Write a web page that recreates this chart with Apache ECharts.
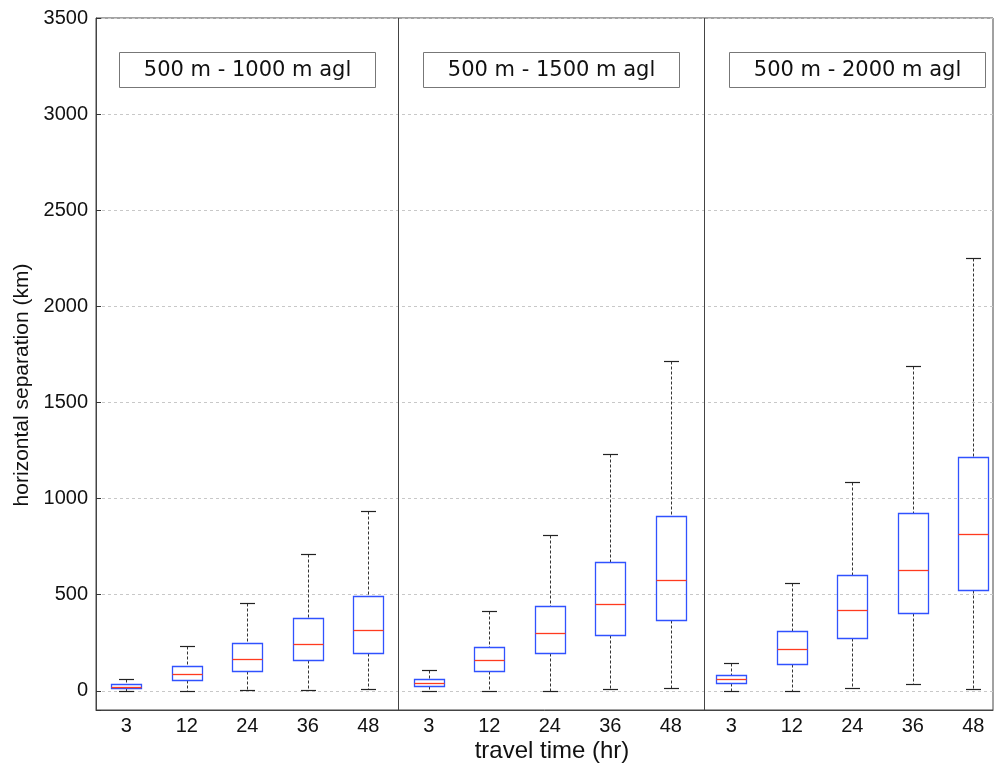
<!DOCTYPE html>
<html><head><meta charset="utf-8">
<script src="https://cdn.jsdelivr.net/npm/echarts@6/dist/echarts.min.js"></script>
<style>html,body{margin:0;padding:0;background:#fff}#c{width:996px;height:765px}</style>
</head><body><div id="c"></div>
<script>
const travelTimes = ['3', '12', '24', '36', '48'];
const panelTitles = ['500 m - 1000 m agl', '500 m - 1500 m agl', '500 m - 2000 m agl'];
const yAxisTitle = 'horizontal separation (km)';
const xAxisTitle = 'travel time (hr)';
// each box: [lower whisker, Q1, median, Q3, upper whisker] (km), one per travel time
const panel1000 = [[0, 14, 19, 33, 60], [0, 57, 89, 130, 234], [2, 104, 165, 246, 458], [2, 158, 243, 380, 713], [7, 199, 316, 495, 934]];
const panel1500 = [[0, 24, 42, 61, 108], [0, 103, 160, 228, 417], [0, 196, 298, 441, 809], [8, 292, 451, 668, 1234], [12, 368, 574, 909, 1715]];
const panel2000 = [[0, 38, 59, 83, 143], [0, 141, 217, 311, 562], [14, 276, 422, 601, 1085], [33, 407, 626, 925, 1687], [8, 523, 814, 1218, 2253]];

const panels = [panel1000, panel1500, panel2000];
const boxData = [];
panels.forEach((p, pi) => p.forEach((s, i) => boxData.push([pi * 5 + i + 1].concat(s))));

const px = v => Math.round(v) + 0.5;

function renderBox(params, api) {
  const x = api.value(0);
  const lo = api.coord([x, api.value(1)]);
  const q1 = api.coord([x, api.value(2)]);
  const md = api.coord([x, api.value(3)]);
  const q3 = api.coord([x, api.value(4)]);
  const hi = api.coord([x, api.value(5)]);
  const cx = px(lo[0]);
  const bw = 15, cw = 7.5;
  const dash = { stroke: '#333', lineWidth: 1, lineDash: [3, 2], fill: null };
  const cap = { stroke: '#222', lineWidth: 1.2, fill: null };
  return {
    type: 'group',
    children: [
      { type: 'line', shape: { x1: cx, y1: px(hi[1]), x2: cx, y2: px(q3[1]) }, style: dash },
      { type: 'line', shape: { x1: cx, y1: px(q1[1]), x2: cx, y2: px(lo[1]) }, style: dash },
      { type: 'line', shape: { x1: cx - cw, y1: px(hi[1]), x2: cx + cw, y2: px(hi[1]) }, style: cap },
      { type: 'line', shape: { x1: cx - cw, y1: px(lo[1]), x2: cx + cw, y2: px(lo[1]) }, style: cap },
      { type: 'rect', shape: { x: cx - bw, y: px(q3[1]), width: 2 * bw, height: px(q1[1]) - px(q3[1]) },
        style: { fill: 'none', stroke: '#3052ff', lineWidth: 1.3 } },
      { type: 'line', shape: { x1: cx - bw, y1: px(md[1]), x2: cx + bw, y2: px(md[1]) },
        style: { stroke: '#ff3a1f', lineWidth: 1.3, fill: null } }
    ]
  };
}

const titleCenters = [247, 551, 857];
const graphics = panelTitles.map((t, i) => ({
  type: 'group',
  left: titleCenters[i] - 128, top: 52,
  children: [
    { type: 'rect', shape: { x: 0, y: 0, width: 256, height: 35 }, style: { fill: '#fff', stroke: '#777', lineWidth: 1 } },
    { type: 'text', x: 128, y: 18, style: { text: t, font: '21px "DejaVu Sans"', fill: '#111', align: 'center', verticalAlign: 'middle' } }
  ]
}));
graphics.push({ type: 'text', x: 22, y: 385, rotation: Math.PI / 2,
  style: { text: yAxisTitle, font: '21px "Liberation Sans"', fill: '#111', align: 'center', verticalAlign: 'middle' } });
graphics.push({ type: 'text', x: 552, y: 751,
  style: { text: xAxisTitle, font: '24px "Liberation Sans"', fill: '#111', align: 'center', verticalAlign: 'middle' } });

const chart = echarts.init(document.getElementById('c'), null, { renderer: 'canvas' });
chart.setOption({
  animation: false,
  backgroundColor: '#fff',
  grid: { left: 96, right: 1, top: 18, bottom: 55, show: true, borderColor: '#444', borderWidth: 1, backgroundColor: 'transparent' },
  xAxis: {
    type: 'value', min: 0.5, max: 15.325, interval: 0.5,
    axisLine: { show: true, onZero: false, lineStyle: { color: '#444', width: 1 } },
    axisTick: { show: false },
    splitLine: { show: false },
    axisLabel: {
      margin: 6, color: '#111', fontSize: 20, fontFamily: 'Liberation Sans',
      showMinLabel: true, showMaxLabel: true,
      formatter: v => (Number.isInteger(v) && v >= 1 && v <= 15) ? travelTimes[(v - 1) % 5] : ''
    }
  },
  yAxis: {
    type: 'value', min: -100, max: 3500, splitNumber: 7,
    axisLine: { show: true, onZero: false, lineStyle: { color: '#444', width: 1 } },
    axisTick: { show: true, inside: true, length: 5, lineStyle: { color: '#333' } },
    splitLine: { show: true, lineStyle: { color: '#c8c8c8', type: [3, 3], width: 1 } },
    axisLabel: {
      margin: 8, color: '#111', fontSize: 20, fontFamily: 'Liberation Sans',
      formatter: v => (v % 500 === 0 ? String(v) : '')
    }
  },
  series: [{
    type: 'custom',
    renderItem: renderBox,
    data: boxData,
    encode: { x: 0, y: [1, 2, 3, 4, 5] },
    clip: true,
    markLine: {
      silent: true, symbol: 'none', label: { show: false },
      lineStyle: { color: '#444', type: 'solid', width: 1 },
      data: [{ xAxis: 5.5 }, { xAxis: 10.55 }]
    }
  }],
  graphic: graphics
});
</script></body></html>
